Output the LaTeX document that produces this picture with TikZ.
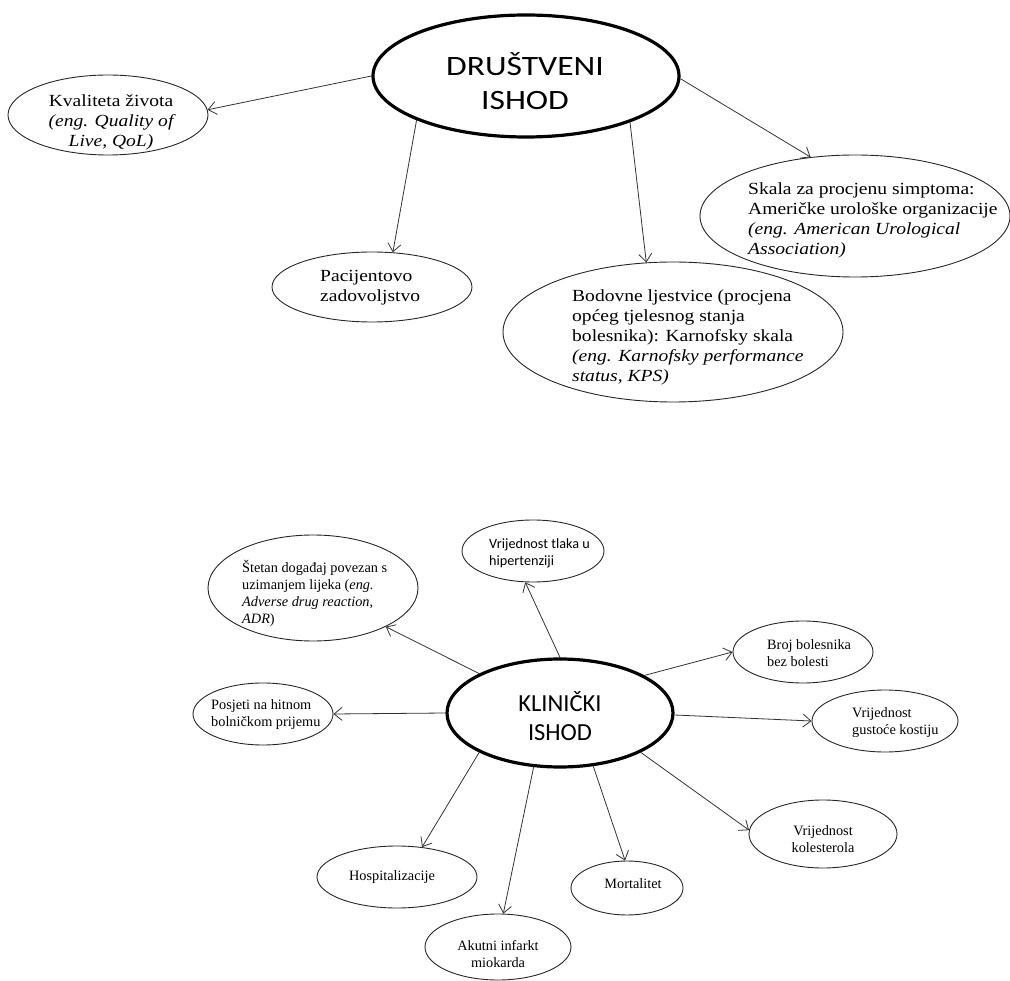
\documentclass[tikz,border=0pt]{standalone}
\usepackage{fontspec}
\setmainfont{Liberation Serif}
\newfontfamily\topserif[FakeStretch=1.15]{Liberation Serif}
\newfontfamily\topsans[FakeStretch=1.2]{Carlito}
\newfontfamily\calibri{Carlito}
\usetikzlibrary{shapes.geometric,arrows.meta}
\tikzset{
  oval/.style={ellipse, draw=black!85, line width=0.9pt, inner sep=0pt},
  hub/.style={ellipse, draw=black, line width=3.2pt, inner sep=0pt},
  conn/.style={draw=black!80, line width=0.8pt, -{Straight Barb[length=8pt,width=13pt,line width=0.8pt]}},
  toptxt/.style={inner sep=0pt, font=\topserif\fontsize{17}{20}\selectfont},
  lowtxt/.style={inner sep=0pt, font=\fontsize{14.3}{17}\selectfont},
  caltxt/.style={inner sep=0pt, align=left, font=\calibri\fontsize{14.2}{17}\selectfont},
}
\begin{document}
\begin{tikzpicture}[x=1pt,y=-1pt]
\useasboundingbox (0,0) rectangle (1010,981);
% ---------- upper part ----------
\node[hub, minimum width=306pt, minimum height=122pt] (dr) at (526,76) {};
\node[inner sep=0pt, align=center, font=\topsans\fontsize{28}{34}\selectfont] (drt) at (525,81) {DRUŠTVENI\\ISHOD};

\node[oval, minimum width=200pt, minimum height=80pt] (kv) at (108,115) {};
\node[toptxt, align=center] (kvt) at (111,122) {Kvaliteta života\\\itshape (eng. Quality of\\\itshape Live, QoL)};

\node[oval, minimum width=200pt, minimum height=70pt] (pa) at (372,287) {};
\node[toptxt, align=left, anchor=west] (pat) at (320,288) {Pacijentovo\\zadovoljstvo};

\node[oval, minimum width=340pt, minimum height=140pt] (bo) at (673,332) {};
\node[toptxt, align=left, anchor=west] (bot) at (572,337) {Bodovne ljestvice (procjena\\općeg tjelesnog stanja\\bolesnika): Karnofsky skala\\\itshape (eng. Karnofsky performance\\\itshape status, KPS)};

\node[oval, minimum width=310pt, minimum height=122pt] (sk) at (855,216) {};
\node[toptxt, align=left, anchor=west] (skt) at (748,220) {Skala za procjenu simptoma:\\Američke urološke organizacije\\\itshape (eng. American Urological\\\itshape Association)};

\draw[conn] (dr.180) -- (kv.3);
\draw[conn] (dr.202.5) -- (pa.59);
\draw[conn] (dr.336.7) -- (bo.111);
\draw[conn] (dr.-1) -- (sk.127);

% ---------- lower part ----------
\node[hub, minimum width=226pt, minimum height=108pt] (kl) at (560,713) {};
\node[inner sep=0pt, align=center, font=\calibri\fontsize{24.5}{29}\selectfont] (klt) at (560,716) {KLINIČKI\\ISHOD};

\node[oval, minimum width=142pt, minimum height=62pt] (tl) at (533,551) {};
\node[caltxt, anchor=west] (tlt) at (489,553) {Vrijednost tlaka u\\hipertenziji};

\node[oval, minimum width=210pt, minimum height=106pt] (st) at (313,588) {};
\node[lowtxt, align=left, anchor=west] (stt) at (242,593) {Štetan događaj povezan s\\uzimanjem lijeka (\textit{eng.}\\\textit{Adverse drug reaction,}\\\textit{ADR})};

\node[oval, minimum width=140pt, minimum height=62pt] (br) at (803,652) {};
\node[lowtxt, align=left, anchor=west] (brt) at (767,653) {Broj bolesnika\\bez bolesti};

\node[oval, minimum width=140pt, minimum height=62pt] (po) at (263,714) {};
\node[lowtxt, align=left, anchor=west] (pot) at (211,715) {Posjeti na hitnom\\bolničkom prijemu};

\node[oval, minimum width=146pt, minimum height=62pt] (gu) at (885,721) {};
\node[lowtxt, align=left, anchor=west] (gut) at (852,723) {Vrijednost\\gustoće kostiju};

\node[oval, minimum width=148pt, minimum height=68pt] (ko) at (823,834) {};
\node[lowtxt, align=center] (kot) at (823,839) {Vrijednost\\kolesterola};

\node[oval, minimum width=160pt, minimum height=62pt] (ho) at (397,877) {};
\node[lowtxt] (hot) at (392,877) {Hospitalizacije};

\node[oval, minimum width=146pt, minimum height=66pt] (ak) at (498,947) {};
\node[lowtxt, align=center] (akt) at (498,954) {Akutni infarkt\\miokarda};

\node[oval, minimum width=112pt, minimum height=54pt] (mo) at (627,888) {};
\node[lowtxt] (mot) at (633,884) {Mortalitet};

\draw[conn] (kl.90) -- (tl.256);
\draw[conn] (kl.154) -- (st.332);
\draw[conn] (kl.24.6) -- (br.180);
\draw[conn] (kl.180) -- (po.0);
\draw[conn] (kl.-1) -- (gu.180);
\draw[conn] (kl.334) -- (ko.177);
\draw[conn] (kl.206.6) -- (ho.50);
\draw[conn] (kl.244.7) -- (ak.81);
\draw[conn] (kl.302.5) -- (mo.94);
\end{tikzpicture}
\end{document}
